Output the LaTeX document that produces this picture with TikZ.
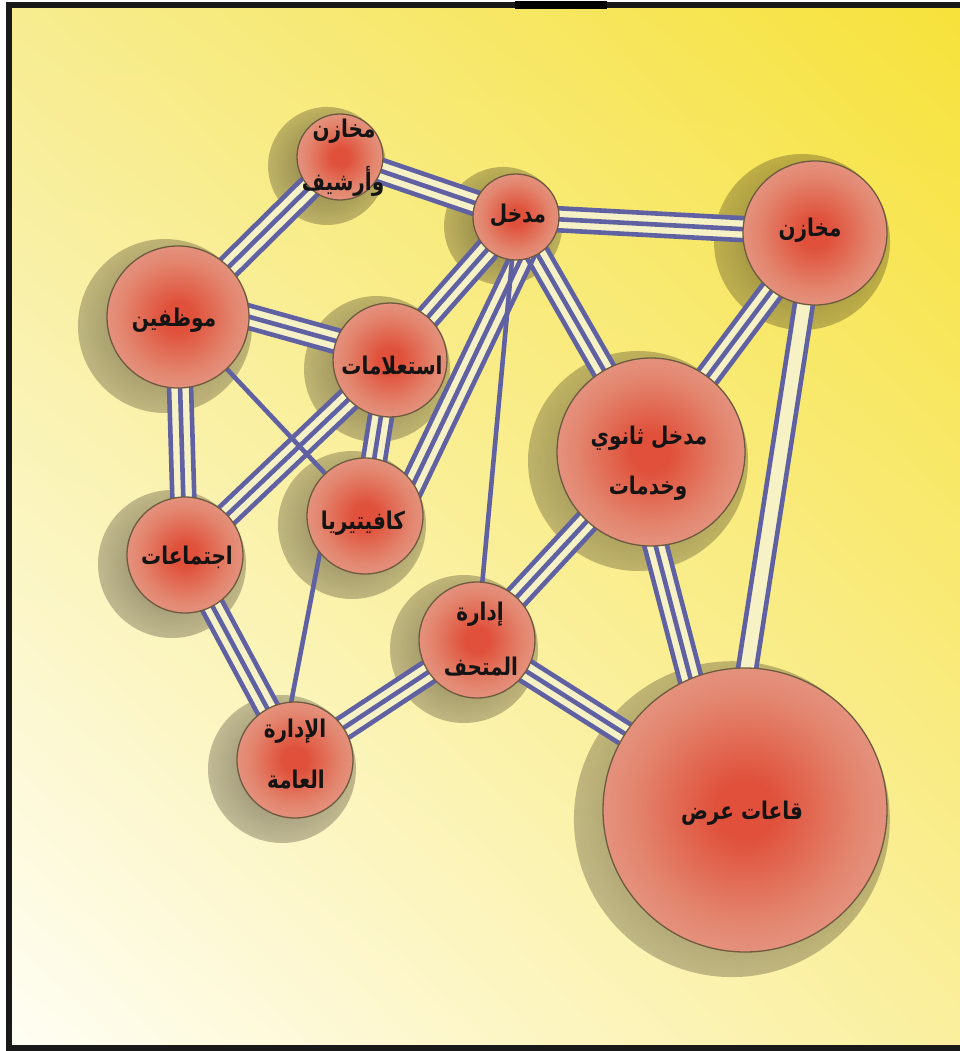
\documentclass[tikz,border=0pt]{standalone}
\usepackage{fontspec}
\usetikzlibrary{fadings,shadings,calc}
\newfontfamily\arabicfont[Script=Arabic]{DejaVu Sans}
\TeXXeTstate=1

% palette
\definecolor{bgTL}{HTML}{F7EC90}
\definecolor{bgTR}{HTML}{F7E23A}
\definecolor{bgBL}{HTML}{FFFEF4}
\definecolor{bgBR}{HTML}{FAEF9E}
\definecolor{linkc}{HTML}{5F61A2}
\definecolor{gapc}{HTML}{F6F2C6}
\definecolor{ballA}{HTML}{E0503A}
\definecolor{ballB}{HTML}{E3866F}
\definecolor{ballC}{HTML}{E6A899}
\definecolor{ballE}{HTML}{E9BAAF}
\definecolor{ballD}{HTML}{C09484}
\definecolor{rimc}{HTML}{6F5A40}

% sphere-like fill of the stations
\pgfdeclareradialshading{ballshade}{\pgfpoint{0bp}{0bp}}{%
  color(0bp)=(ballA); color(5bp)=(ballA); color(20bp)=(ballB);
  color(35bp)=(ballC); color(46bp)=(ballE); color(50bp)=(ballD)}
% soft disc used for the blurred shadows
\pgfdeclareradialshading{softdiscshade}{\pgfpointorigin}{%
  color(0bp)=(pgftransparent!0); color(12bp)=(pgftransparent!0);
  color(50bp)=(pgftransparent!100)}
\pgfdeclarefading{softdisc}{\pgfuseshading{softdiscshade}}

\pgfdeclarelayer{backdrop}
\pgfdeclarelayer{shadows}
\pgfdeclarelayer{bands}
\pgfdeclarelayer{links}
\pgfsetlayers{backdrop,shadows,bands,links,main}

% a station: name, x, y, radius
\newcommand\station[4]{%
  \node[ball, minimum size=#4*2pt] (#1) at (#2,#3) {};
  \begin{pgfonlayer}{shadows}
    \fill[black!85!brown, opacity=.4, path fading=softdisc]
      ([shift={(-13,9)}]#1.center) circle (#4+16);
  \end{pgfonlayer}}
% Arabic label, stretched a little in height
\newcommand\arlabel[1]{\scalebox{1}[1.22]{\beginR #1\endR}}
% striped connectors: a pale band carrying three (or two) thin stripes
\newcommand\trilink[2]{%
  \begin{pgfonlayer}{bands}
    \draw[bandgap] (#1) -- (#2);
  \end{pgfonlayer}
  \draw[stripe] ($(#1)!11pt!90:(#2)$) -- ($(#2)!11pt!-90:(#1)$);
  \draw[stripe] ($(#1)!0pt!(#2)$) -- ($(#2)!0pt!(#1)$);
  \draw[stripe] ($(#1)!11pt!-90:(#2)$) -- ($(#2)!11pt!90:(#1)$);}
\newcommand\duolink[2]{%
  \begin{pgfonlayer}{bands}
    \draw[pairgap] (#1) -- (#2);
  \end{pgfonlayer}
  \draw[stripe] ($(#1)!9pt!90:(#2)$) -- ($(#2)!9pt!-90:(#1)$);
  \draw[stripe] ($(#1)!9pt!-90:(#2)$) -- ($(#2)!9pt!90:(#1)$);}

\begin{document}
\begin{tikzpicture}[x=1pt,y=-1pt,
  ball/.style={circle, draw=rimc, line width=1.3pt, shade, shading=ballshade, inner sep=0pt},
  lab/.style={font=\arabicfont\bfseries\fontsize{20}{24}\selectfont, text=black!92, inner sep=0pt},
  bandgap/.style={draw=gapc, line width=22pt},
  pairgap/.style={draw=gapc, line width=18pt},
  stripe/.style={draw=linkc, line width=4.6pt},
  uno/.style={draw=linkc, line width=4.6pt}]

\useasboundingbox (0,0) rectangle (960,1051);

% backdrop and frame
\begin{pgfonlayer}{backdrop}
  \fill[white] (0,0) rectangle (960,1051);
  \shade[upper left=bgTL, upper right=bgTR, lower left=bgBL, lower right=bgBR]
    (9,5) rectangle (960,1048);
  \begin{scope}
    \clip (0,0) rectangle (960,1051);
    \draw[line width=6pt, black!90] (9,5) rectangle (990,1048);
    \draw[line width=8pt, black] (515,5) -- (607,5);
  \end{scope}
\end{pgfonlayer}

% stations
\station{A}{340}{157}{43}
\station{B}{516}{217}{43}
\station{C}{815}{233}{72}
\station{D}{178}{317}{71}
\station{E}{390}{360}{57}
\station{F}{651}{452}{94}
\station{G}{365}{516}{58}
\station{H}{185}{555}{58}
\station{I}{477}{640}{58}
\station{J}{295}{760}{58}
\station{K}{745}{810}{142}

% labels
\node[lab] (A1) at (344,131) {\arlabel{مخازن}};
\node[lab] (A2) at (343,181) {\arlabel{وأرشيف}};
\node[lab] (B1) at (518,215) {\arlabel{مدخل}};
\node[lab] (C1) at (810,230) {\arlabel{مخازن}};
\node[lab] (D1) at (174,320) {\arlabel{موظفين}};
\node[lab] (E1) at (392,366) {\arlabel{استعلامات}};
\node[lab] (F1) at (649,438) {\arlabel{مدخل ثانوي}};
\node[lab] (F2) at (648,488) {\arlabel{وخدمات}};
\node[lab] (G1) at (363,523) {\arlabel{كافيتيريا}};
\node[lab] (H1) at (187,557) {\arlabel{اجتماعات}};
\node[lab] (I1) at (480,614) {\arlabel{إدارة}};
\node[lab] (I2) at (481,667) {\arlabel{المتحف}};
\node[lab] (J1) at (295,731) {\arlabel{الإدارة}};
\node[lab] (J2) at (296,780) {\arlabel{العامة}};
\node[lab] (K1) at (742,813) {\arlabel{قاعات عرض}};

% connectors
\begin{pgfonlayer}{links}
  \trilink{A.center}{B.center}
  \trilink{A.center}{D.center}
  \trilink{B.center}{C.center}
  \trilink{B.center}{E.center}
  \trilink{[xshift=25pt]B.center}{[xshift=33pt]G.center}
  \trilink{B.center}{F.center}
  \trilink{C.center}{F.center}
  \duolink{C.center}{[xshift=-20pt]K.center}
  \trilink{[xshift=-20pt]F.center}{[xshift=-20pt]K.center}
  \trilink{F.center}{I.center}
  \trilink{[yshift=20pt]D.center}{[yshift=4pt]E.center}
  \trilink{D.center}{H.center}
  \trilink{E.center}{H.center}
  \trilink{E.center}{G.center}
  \trilink{H.center}{J.center}
  \trilink{I.center}{J.center}
  \trilink{I.center}{K.center}
  \draw[uno] (B.center) -- (I.center);
  \draw[uno] (D.center) -- (G.center);
  \draw[uno] ([xshift=-38pt]G.center) -- ([xshift=-15pt]J.center);
\end{pgfonlayer}
\end{tikzpicture}
\end{document}
